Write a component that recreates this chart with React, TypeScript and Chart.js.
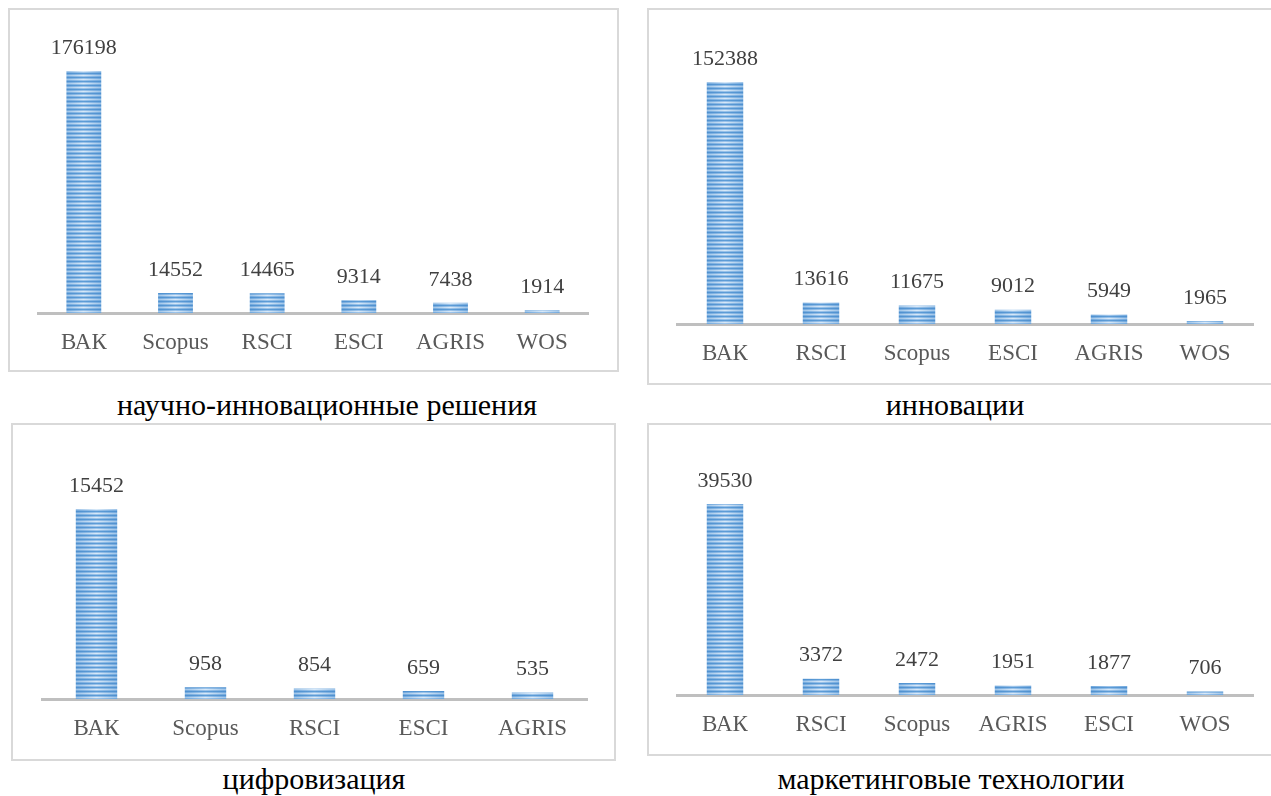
import React, { useEffect, useRef } from "react";
import { Chart, registerables } from "chart.js";

Chart.register(...registerables);

// ---- data ----
const cats1 = ["ВАК", "Scopus", "RSCI", "ESCI", "AGRIS", "WOS"];
const vals1 = [176198, 14552, 14465, 9314, 7438, 1914];
const cap1 = "научно-инновационные решения";

const cats2 = ["ВАК", "RSCI", "Scopus", "ESCI", "AGRIS", "WOS"];
const vals2 = [152388, 13616, 11675, 9012, 5949, 1965];
const cap2 = "инновации";

const cats3 = ["ВАК", "Scopus", "RSCI", "ESCI", "AGRIS"];
const vals3 = [15452, 958, 854, 659, 535];
const cap3 = "цифровизация";

const cats4 = ["ВАК", "RSCI", "Scopus", "AGRIS", "ESCI", "WOS"];
const vals4 = [39530, 3372, 2472, 1951, 1877, 706];
const cap4 = "маркетинговые технологии";

// ---- style / layout ----
const SERIF = "'Liberation Serif', serif";
const BAR_PCT = 0.38;
const AXIS_H = 50;

type Layout = {
  box: [number, number, number, number]; // outer left, top, right, bottom
  plot: [number, number, number, number]; // left, top, right, bottom
  cap: [number, number]; // caption center x, y
};

const layouts: Layout[] = [
  { box: [8, 8, 619, 372], plot: [38, 71, 588, 313], cap: [327, 405] },
  { box: [647, 8, 1274, 385], plot: [677, 82, 1253, 324], cap: [955, 405] },
  { box: [11, 423, 616, 761], plot: [42, 509, 587, 699], cap: [314, 779] },
  { box: [647, 423, 1274, 756], plot: [677, 504, 1253, 695], cap: [951, 779] },
];

function grad(c: CanvasRenderingContext2D, w: number, edge: string, mid: string) {
  const g = c.createLinearGradient(0, 0, w, 0);
  g.addColorStop(0, edge);
  g.addColorStop(0.5, mid);
  g.addColorStop(1, edge);
  return g;
}

function stripePattern(ctx: CanvasRenderingContext2D, w: number, x0: number, y0: number) {
  const cv = document.createElement("canvas");
  const W = Math.max(1, Math.round(w));
  cv.width = W;
  cv.height = 4;
  const c = cv.getContext("2d")!;
  const rows: [string, string][] = [
    ["#4f90cf", "#5d9dd7"],
    ["#72a9dd", "#9cc3ea"],
    ["#9fc4e8", "#d8e9f8"],
    ["#72a9dd", "#9cc3ea"],
  ];
  rows.forEach(([e, m], i) => {
    c.fillStyle = grad(c, W, e, m);
    c.fillRect(0, i, W, 1);
  });
  const p = ctx.createPattern(cv, "repeat")!;
  if (p && (p as any).setTransform) {
    (p as any).setTransform(new DOMMatrix([1, 0, 0, 1, Math.round(x0), Math.round(y0)]));
  }
  return p;
}

const valueLabels = {
  id: "valueLabels",
  afterDatasetsDraw(chart: any) {
    const { ctx } = chart;
    const meta = chart.getDatasetMeta(0);
    const data = chart.data.datasets[0].data as number[];
    ctx.save();
    ctx.font = `22px ${SERIF}`;
    ctx.fillStyle = "#404040";
    ctx.textAlign = "center";
    ctx.textBaseline = "middle";
    meta.data.forEach((bar: any, i: number) => {
      ctx.fillText(String(data[i]), bar.x, bar.y - 23);
    });
    ctx.restore();
  },
};

let warmed = false;
function warmFonts() {
  if (warmed) return;
  warmed = true;
  void document.body.offsetHeight;
  const cv = document.createElement("canvas");
  cv.width = 200;
  cv.height = 40;
  const c = cv.getContext("2d");
  if (c) {
    for (const s of [22, 23]) {
      c.font = `${s}px ${SERIF}`;
      c.fillText("ВАК Scopus RSCI 0123456789", 0, 20);
      c.measureText("ВАК Scopus RSCI 0123456789");
    }
  }
}

function Panel({ labels, values, caption, layout }: { labels: string[]; values: number[]; caption: string; layout: Layout }) {
  const ref = useRef<HTMLCanvasElement>(null);
  const [bl, bt, br, bb] = layout.box;
  const [pl, pt, pr, pb] = layout.plot;
  const cl = bl + 2, ct = bt + 2, cw = br - bl - 4, ch = bb - bt - 4;

  useEffect(() => {
    if (!ref.current) return;
    warmFonts();
    let alive = true;
    const chart = new Chart(ref.current, {
      type: "bar",
      data: {
        labels,
        datasets: [
          {
            data: values,
            barPercentage: BAR_PCT,
            categoryPercentage: 1,
            borderWidth: 0,
            backgroundColor: (c: any) => {
              const chart = c.chart;
              const area = chart.chartArea;
              if (!area || c.dataIndex === undefined) return "#8ab8e3";
              const catW = (area.right - area.left) / labels.length;
              const w = catW * BAR_PCT;
              const x = chart.scales.x.getPixelForValue(c.dataIndex);
              return stripePattern(chart.ctx, w, x - w / 2, area.bottom);
            },
          },
        ],
      },
      options: {
        responsive: false,
        animation: false,
        devicePixelRatio: 1,
        layout: {
          padding: {
            left: pl - cl,
            right: cl + cw - pr,
            top: pt - ct,
            bottom: ct + ch - pb - AXIS_H,
          },
        },
        plugins: { legend: { display: false }, tooltip: { enabled: false } },
        scales: {
          x: {
            grid: { display: false, drawTicks: false },
            border: { display: true, color: "#bfbfbf", width: 3 },
            ticks: {
              color: "#595959",
              font: { family: SERIF, size: 23 },
              padding: 16,
              maxRotation: 0,
              autoSkip: false,
            },
            afterFit: (s: any) => {
              s.height = AXIS_H;
            },
          },
          y: { display: false, min: 0, max: Math.max(...values) },
        },
      },
      plugins: [valueLabels],
    });
    chart.update();
    const redraw = () => {
      if (alive) chart.update();
    };
    const timers = [0, 50, 150, 400].map((t) => setTimeout(redraw, t));
    const fonts = (document as any).fonts;
    if (fonts) {
      try {
        fonts.ready.then(redraw).catch(() => {});
      } catch (e) {}
    }
    return () => {
      alive = false;
      timers.forEach(clearTimeout);
      chart.destroy();
    };
  }, []);

  return (
    <>
      <div
        style={{
          position: "absolute",
          left: bl,
          top: bt,
          width: br - bl - 4,
          height: bb - bt - 4,
          border: "2px solid #d9d9d9",
          background: "#fff",
        }}
      />
      <canvas
        ref={ref}
        width={cw}
        height={ch}
        style={{ position: "absolute", left: cl, top: ct, width: cw, height: ch }}
      />
      <div
        style={{
          position: "absolute",
          left: layout.cap[0],
          top: layout.cap[1],
          transform: "translate(-50%, -50%)",
          whiteSpace: "nowrap",
          fontFamily: SERIF,
          fontSize: 30,
          lineHeight: "34px",
          color: "#000",
        }}
      >
        {caption}
      </div>
    </>
  );
}

export default function App() {
  return (
    <div
      style={{
        position: "absolute",
        left: 0,
        top: 0,
        width: 1271,
        height: 796,
        overflow: "hidden",
        background: "#fff",
        fontFamily: SERIF,
      }}
    >
      <Panel labels={cats1} values={vals1} caption={cap1} layout={layouts[0]} />
      <Panel labels={cats2} values={vals2} caption={cap2} layout={layouts[1]} />
      <Panel labels={cats3} values={vals3} caption={cap3} layout={layouts[2]} />
      <Panel labels={cats4} values={vals4} caption={cap4} layout={layouts[3]} />
    </div>
  );
}
